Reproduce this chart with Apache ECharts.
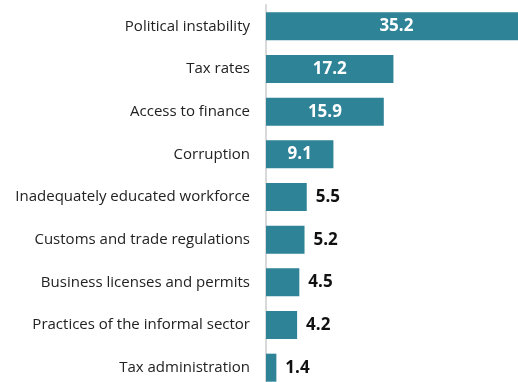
<!DOCTYPE html>
<html><head><meta charset="utf-8">
<script src="https://cdn.jsdelivr.net/npm/echarts@6/dist/echarts.min.js"></script>
<style>html,body{margin:0;padding:0;background:#fff}#c{width:518px;height:382px}</style>
</head><body><div id="c"></div>
<script>
const categories = ["Political instability","Tax rates","Access to finance","Corruption","Inadequately educated workforce","Customs and trade regulations","Business licenses and permits","Practices of the informal sector","Tax administration"];
const values = [35.2,17.2,15.9,9.1,5.5,5.2,4.5,4.2,1.4];
const insideThreshold = 9;
const chart = echarts.init(document.getElementById('c'));
const data = values.map(v => ({
  value: v,
  label: v >= insideThreshold
    ? {position: 'inside', color: '#fff'}
    : {position: 'right', color: '#111', distance: 9}
}));
chart.setOption({
  animation: false,
  grid: {left: 266, top: 5, width: 263, height: 384, containLabel: false, outerBoundsMode: 'none'},
  xAxis: {type: 'value', min: 0, max: 35.5, show: false},
  yAxis: {type: 'category', inverse: true, data: categories,
    axisLine: {show: true, lineStyle: {color: '#d9d9d9', width: 2}},
    axisTick: {show: false},
    axisLabel: {color: '#222', fontFamily: 'Open Sans', fontSize: 15, margin: 16}
  },
  series: [{type: 'bar', data: data, barWidth: 28, clip: false,
    itemStyle: {color: '#2e8396'},
    label: {show: true, fontFamily: 'Open Sans', fontWeight: 'bold', fontSize: 17,
      formatter: p => p.value.toFixed(1)}
  }]
});
</script></body></html>
